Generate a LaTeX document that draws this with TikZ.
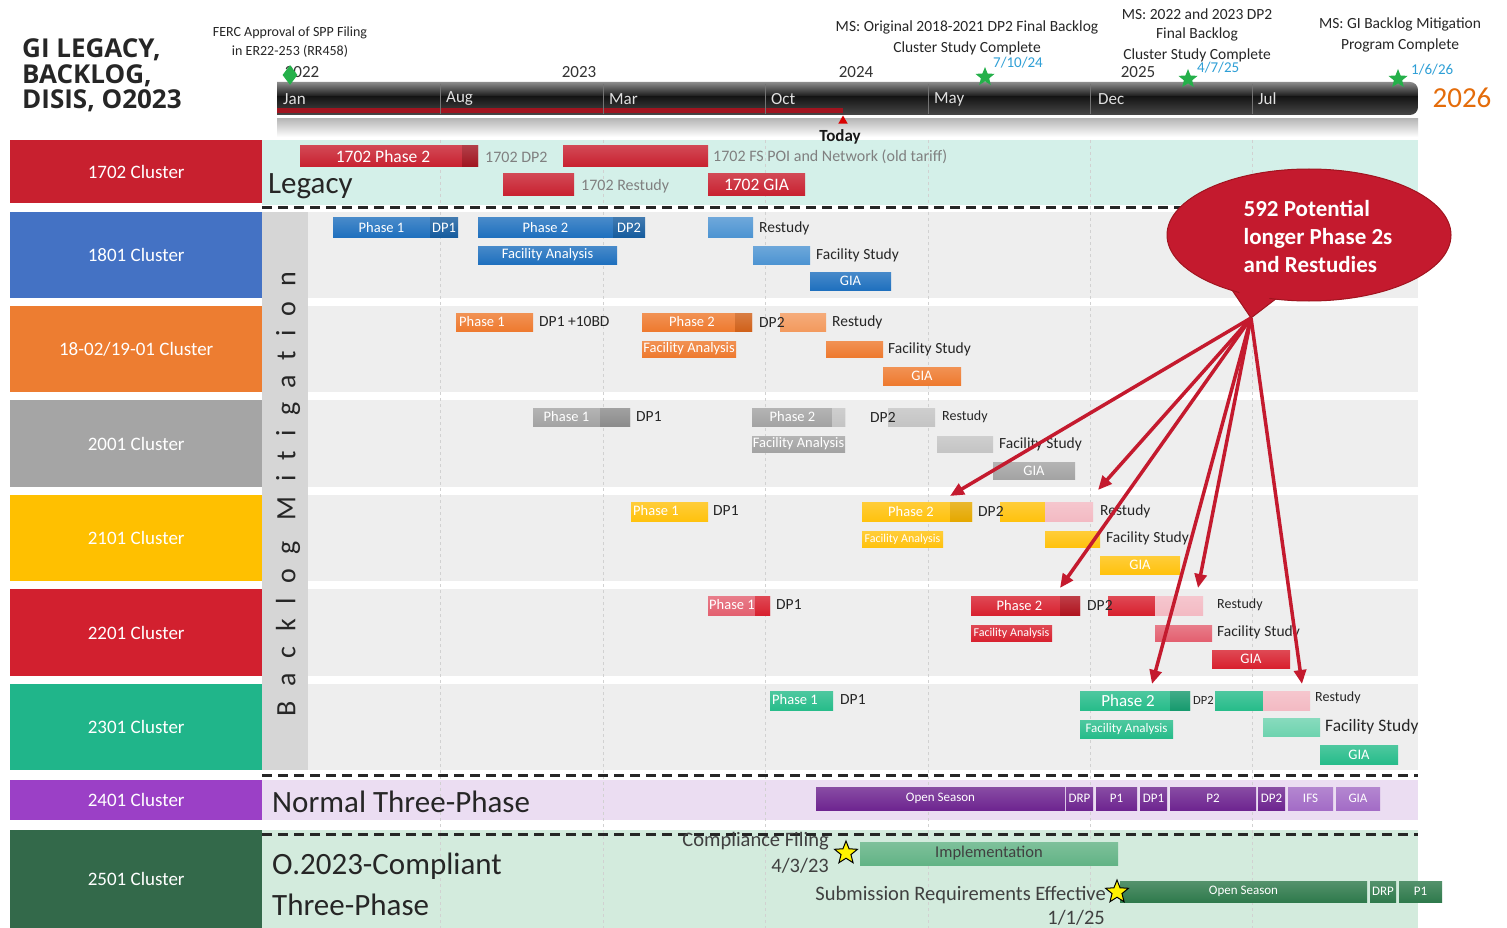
\documentclass[tikz,border=0pt]{standalone}
\usepackage{fontspec}
\setmainfont{Carlito}
\newfontfamily\titlef{Open Sans}
\newfontfamily\spacedf[LetterSpace=52,Ligatures={NoCommon,NoRare,NoDiscretionary}]{Carlito}
\usetikzlibrary{shapes.geometric,arrows.meta}
\definecolor{cRed}{HTML}{C8202F}
\definecolor{cRedD}{HTML}{A0141F}
\definecolor{cBlueL}{HTML}{4472C4}
\definecolor{cBlue}{HTML}{1F70BE}
\definecolor{cBlueD}{HTML}{165C9E}
\definecolor{cBlueLt}{HTML}{4D94D2}
\definecolor{cOrL}{HTML}{ED7D31}
\definecolor{cOr}{HTML}{EE7A2F}
\definecolor{cOrD}{HTML}{D0611A}
\definecolor{cOrLt}{HTML}{F39A5E}
\definecolor{cGyL}{HTML}{A5A5A5}
\definecolor{cGy}{HTML}{A3A3A3}
\definecolor{cGyD}{HTML}{8C8C8C}
\definecolor{cGyLt}{HTML}{C4C4C4}
\definecolor{cGoL}{HTML}{FFC000}
\definecolor{cGo}{HTML}{FFC20E}
\definecolor{cGoD}{HTML}{E5A800}
\definecolor{cPink}{HTML}{F3BAC3}
\definecolor{cR2L}{HTML}{D2202F}
\definecolor{cR2}{HTML}{D8212F}
\definecolor{cR2D}{HTML}{B0141F}
\definecolor{cR2Lt}{HTML}{E36070}
\definecolor{cTeL}{HTML}{20B58A}
\definecolor{cTe}{HTML}{27BC8A}
\definecolor{cTeD}{HTML}{179A6E}
\definecolor{cTeLt}{HTML}{6ED3AF}
\definecolor{cPuL}{HTML}{9B40C6}
\definecolor{cPu}{HTML}{6E2590}
\definecolor{cPuLt}{HTML}{A36CC6}
\definecolor{cDgL}{HTML}{33694A}
\definecolor{cDg}{HTML}{2F7A4C}
\definecolor{cImp}{HTML}{62B385}
\definecolor{bgLeg}{HTML}{D4F0E9}
\definecolor{bgBand}{HTML}{EEEEEE}
\definecolor{bgCol}{HTML}{D6D6D6}
\definecolor{bgPu}{HTML}{EBDDF2}
\definecolor{bgGr}{HTML}{D3EBDD}
\definecolor{msBlue}{HTML}{2E9FD6}
\definecolor{cStar}{HTML}{25B04A}
\definecolor{c2026}{HTML}{E46C0A}
\definecolor{cCall}{HTML}{C41A2E}
\newcommand\gb[7]{\node[gbar,top color=#6!82!white,bottom color=#6,minimum width={#3-#2},minimum height={#5-#4},anchor=north west] (#1) at (#2,#4) {#7};}
\tikzset{
  gbar/.style={rectangle,inner sep=0pt,outer sep=0pt,text=white,font=\fontsize{14.5}{16}\selectfont},
  btxt/.style={anchor=west,inner sep=0pt,text=white,font=\fontsize{14.5}{16}\selectfont},
  lab/.style={anchor=west,inner sep=0pt,text=black!85,font=\fontsize{15.5}{18}\selectfont},
  glab/.style={lab,text=black!50,font=\fontsize{16}{18}\selectfont},
  rowlab/.style={rectangle,inner sep=0pt,text=white,font=\fontsize{19}{21}\selectfont,minimum width=252,anchor=north west},
  big/.style={anchor=west,inner sep=0pt,text=black!85,font=\fontsize{31}{34}\selectfont},
  ms/.style={inner sep=0pt,text=black!85,font=\fontsize{15.5}{17}\selectfont},
  fms/.style={inner sep=0pt,text=black!85,font=\fontsize{14}{16}\selectfont},
  msd/.style={anchor=west,inner sep=0pt,text=msBlue,font=\fontsize{15}{16}\selectfont},
  mon/.style={anchor=west,inner sep=0pt,text=black!12,font=\fontsize{17}{19}\selectfont},
  yr/.style={inner sep=0pt,text=black!80,font=\fontsize{17}{19}\selectfont},
  gstar/.style={star,star points=5,star point ratio=2.3,fill=cStar,minimum size=20,inner sep=0pt},
  ystar/.style={star,star points=5,star point ratio=2.3,fill=yellow,draw=black,line width=1,minimum size=24,inner sep=0pt},
  dline/.style={line width=3,black!85,dash pattern=on 10 off 6},
  grid/.style={black!18,dashed,line width=0.8},
  callarrow/.style={cCall,line width=3.5,-{Triangle[length=14,width=12]}},
  ttl/.style={anchor=base west,inner sep=0pt,text=black!85,font=\titlef\bfseries\fontsize{26}{26}\selectfont},
  bot/.style={anchor=east,inner sep=0pt,text=black!75,font=\fontsize{20.5}{22}\selectfont},
}
\begin{document}
\begin{tikzpicture}[x=1pt,y=-1pt]
\useasboundingbox (0,0) rectangle (1507,928);
\fill[white] (0,0) rectangle (1507,928);

% ---------- title ----------
\node[ttl] (t1) at (22,58) {GI LEGACY,};
\node[ttl] (t2) at (22,83.5) {BACKLOG,};
\node[ttl] (t3) at (22,109) {DISIS, O2023};

% ---------- section backgrounds ----------
\fill[bgLeg] (262,140) rectangle (1418,205);
\foreach \a/\b in {212/298,306/392,400/487,495/581,589/676,684/770}
  \fill[bgBand] (262,\a) rectangle (1418,\b);
\fill[bgCol] (262,212) rectangle (308,770);
\fill[bgPu] (262,780) rectangle (1418,820);
\fill[bgGr] (262,830) rectangle (1418,928);
\foreach \x in {440,603,765,928,1090,1252}
  \draw[grid] (\x,140) -- (\x,928);

% ---------- row labels ----------
\node[rowlab,fill=cRed,minimum height=63] (r1702) at (10,140) {1702 Cluster};
\node[rowlab,fill=cBlueL,minimum height=86] (r1801) at (10,212) {1801 Cluster};
\node[rowlab,fill=cOrL,minimum height=86] (r1802) at (10,306) {18-02/19-01 Cluster};
\node[rowlab,fill=cGyL,minimum height=87] (r2001) at (10,400) {2001 Cluster};
\node[rowlab,fill=cGoL,minimum height=86] (r2101) at (10,495) {2101 Cluster};
\node[rowlab,fill=cR2L,minimum height=87] (r2201) at (10,589) {2201 Cluster};
\node[rowlab,fill=cTeL,minimum height=86] (r2301) at (10,684) {2301 Cluster};
\node[rowlab,fill=cPuL,minimum height=40] (r2401) at (10,780) {2401 Cluster};
\node[rowlab,fill=cDgL,minimum height=98] (r2501) at (10,830) {2501 Cluster};

% ---------- section texts ----------
\node[big] (legacy) at (268,186) {Legacy};
\node[big] (normal) at (272,802) {Normal Three-Phase};
\node[big] (o2023a) at (272,866) {O.2023-Compliant};
\node[big] (o2023b) at (272,905) {Three-Phase};
\node[rotate=90,inner sep=0pt,text=black!85,font=\spacedf\fontsize{28}{30}\selectfont] (backlog) at (288,494) {Backlog Mitigation};

% ---------- dashed separators ----------
\draw[dline] (262,208) -- (1418,208);
\draw[dline] (262,775) -- (1418,775);
\draw[dline] (262,834) -- (1418,834);

% ---------- timeline ----------
\shade[top color=black!28,bottom color=white] (277,119) rectangle (1418,137);
\begin{scope}
  \clip (277,82) [rounded corners=8] -- (1418,82) -- (1418,115) [sharp corners] -- (277,115) -- cycle;
  \shade[top color=black!45,bottom color=black!92] (277,82) rectangle (1418,97);
  \shade[top color=black!92,bottom color=black!72] (277,96.5) rectangle (1418,115);
\end{scope}
\fill[cRedD] (277,108) rectangle (843,113);
\foreach \x in {440,603,765,928,1090,1252}
  \draw[black!55] (\x,84) -- (\x,114);
\node[mon] (mJan) at (283,99) {Jan};
\node[mon] (mAug) at (446,99) {Aug};
\node[mon] (mMar) at (609,99) {Mar};
\node[mon] (mOct) at (771,99) {Oct};
\node[mon] (mMay) at (934,99) {May};
\node[mon] (mDec) at (1098,99) {Dec};
\node[mon] (mJul) at (1258,99) {Jul};
\node[yr] (y2022) at (302,72) {2022};
\node[yr] (y2023) at (579,72) {2023};
\node[yr] (y2024) at (856,72) {2024};
\node[yr] (y2025) at (1138,72) {2025};
\node[inner sep=0pt,text=c2026,font=\fontsize{29}{31}\selectfont] (y2026) at (1462,98) {2026};
\node[regular polygon,regular polygon sides=3,fill=red!85!black,minimum size=11,inner sep=0pt] (todaytri) at (843,121) {};
\node[inner sep=0pt,text=black!90,font=\bfseries\fontsize{17}{19}\selectfont] (today) at (840,137) {Today};

% ---------- milestones ----------
\node[fms] (ferc1) at (290,33) {FERC Approval of SPP Filing};
\node[fms] (ferc2) at (290,51) {in ER22-253 (RR458)};
\node[diamond,fill=cStar,minimum width=15,minimum height=20,inner sep=0pt] (fercm) at (290,75) {};
\node[ms] (ms1a) at (967,27) {MS: Original 2018-2021 DP2 Final Backlog};
\node[ms] (ms1b) at (967,48) {Cluster Study Complete};
\node[gstar] (ms1s) at (985,77) {};
\node[msd] (ms1d) at (993,63) {7/10/24};
\node[ms] (ms2a) at (1197,14) {MS: 2022 and 2023 DP2};
\node[ms] (ms2b) at (1197,34) {Final Backlog};
\node[ms] (ms2c) at (1197,55) {Cluster Study Complete};
\node[gstar] (ms2s) at (1188,79) {};
\node[msd] (ms2d) at (1197,68) {4/7/25};
\node[ms] (ms3a) at (1400,24) {MS: GI Backlog Mitigation};
\node[ms] (ms3b) at (1400,45) {Program Complete};
\node[gstar] (ms3s) at (1398,79) {};
\node[msd] (ms3d) at (1411,70) {1/6/26};

% ---------- 1702 ----------
\gb{l1}{300}{478}{146}{167}{cRed}{\fontsize{17.5}{19}\selectfont1702 Phase 2\hspace*{12pt}}
\gb{l1d}{462}{478}{146}{167}{cRedD}{}
\node[glab] (l1t) at (485,157) {1702 DP2};
\gb{l2}{563}{708}{146}{167}{cRed}{}
\node[glab] (l2t) at (713,157) {1702 FS POI and Network (old tariff)};
\gb{l3}{503}{574}{174}{196}{cRed}{}
\node[glab] (l3t) at (581,186) {1702 Restudy};
\gb{l4}{708}{805}{174}{196}{cRed}{\fontsize{17.5}{19}\selectfont1702 GIA}

% ---------- 1801 ----------
\gb{b1}{333}{430}{218}{237}{cBlue}{Phase 1}
\gb{b1d}{430}{458}{218}{237}{cBlueD}{DP1}
\gb{b2}{478}{613}{218}{237}{cBlue}{Phase 2}
\gb{b2d}{613}{645}{218}{237}{cBlueD}{DP2}
\gb{b3}{708}{753}{218}{237}{cBlueLt}{}
\node[lab] (b3t) at (759,228) {Restudy};
\gb{b4}{478}{617}{246}{264}{cBlue}{Facility Analysis}
\gb{b5}{753}{810}{246}{264}{cBlueLt}{}
\node[lab] (b5t) at (816,255) {Facility Study};
\gb{b6}{810}{891}{272}{290}{cBlue}{GIA}

% ---------- 18-02/19-01 ----------
\gb{o1}{456}{533}{313}{331}{cOr}{}
\node[btxt] (o1t) at (459,322) {Phase 1};
\node[lab] (o1l) at (539,322) {DP1 +10BD};
\gb{o2}{642}{752}{313}{331}{cOr}{\hspace*{-10pt}Phase 2}
\gb{o2d}{735}{752}{313}{331}{cOrD}{}
\gb{o3}{780}{826}{313}{331}{cOrLt}{}
\node[lab] (o2l) at (759,322) {DP2};
\node[lab] (o3t) at (832,322) {Restudy};
\gb{o4}{642}{736}{341}{357}{cOr}{Facility Analysis}
\gb{o5}{826}{883}{341}{357}{cOr}{}
\node[lab] (o5t) at (888,349) {Facility Study};
\gb{o6}{883}{961}{367}{385}{cOr}{GIA}

% ---------- 2001 ----------
\gb{g1}{533}{630}{408}{426}{cGy}{\hspace*{-30pt}Phase 1}
\gb{g1d}{600}{630}{408}{426}{cGyD}{}
\node[lab] (g1l) at (636,417) {DP1};
\gb{g2}{752}{845}{408}{426}{cGy}{\hspace*{-12pt}Phase 2}
\gb{g2d}{832}{845}{408}{426}{cGyLt}{}
\gb{g3}{888}{935}{408}{426}{cGyLt}{}
\node[lab] (g2l) at (870,417) {DP2};
\node[lab,font=\fontsize{14}{16}\selectfont] (g3t) at (942,417) {Restudy};
\gb{g4}{752}{845}{436}{452}{cGy}{Facility Analysis}
\gb{g5}{937}{993}{436}{452}{cGyLt}{}
\node[lab] (g5t) at (999,444) {Facility Study};
\gb{g6}{993}{1075}{462}{479}{cGy}{GIA}

% ---------- 2101 ----------
\gb{y1}{631}{708}{502}{521}{cGo}{}
\node[btxt] (y1t) at (633,511) {Phase 1};
\node[lab] (y1l) at (713,511) {DP1};
\gb{y2}{862}{972}{502}{521}{cGo}{\hspace*{-12pt}Phase 2}
\gb{y2d}{950}{972}{502}{521}{cGoD}{}
\gb{y3}{1000}{1045}{502}{521}{cGo}{}
\gb{y3p}{1045}{1093}{502}{521}{cPink}{}
\node[lab] (y2l) at (978,511) {DP2};
\node[lab] (y3t) at (1100,511) {Restudy};
\gb{y4}{862}{943}{531}{547}{cGo}{\fontsize{12}{14}\selectfont Facility Analysis}
\gb{y5}{1045}{1100}{531}{547}{cGo}{}
\node[lab] (y5t) at (1106,538) {Facility Study};
\gb{y6}{1100}{1180}{556}{574}{cGo}{GIA}

% ---------- 2201 ----------
\gb{e1}{708}{770}{596}{615}{cR2Lt}{}
\gb{e1d}{755}{770}{596}{615}{cR2}{}
\node[btxt] (e1t) at (709,605) {Phase 1};
\node[lab] (e1l) at (776,605) {DP1};
\gb{e2}{971}{1080}{596}{615}{cR2}{\hspace*{-12pt}Phase 2}
\gb{e2d}{1060}{1080}{596}{615}{cR2D}{}
\gb{e3}{1108}{1155}{596}{615}{cR2}{}
\gb{e3p}{1155}{1203}{596}{615}{cPink}{}
\node[lab] (e2l) at (1087,605) {DP2};
\node[lab,font=\fontsize{14}{16}\selectfont] (e3t) at (1217,605) {Restudy};
\gb{e4}{971}{1052}{625}{641}{cR2}{\fontsize{12}{14}\selectfont Facility Analysis}
\gb{e5}{1155}{1212}{625}{641}{cR2Lt}{}
\node[lab] (e5t) at (1217,632) {Facility Study};
\gb{e6}{1212}{1290}{650}{668}{cR2}{GIA}

% ---------- 2301 ----------
\gb{s1}{770}{833}{691}{710}{cTe}{}
\node[btxt] (s1t) at (772,700) {Phase 1};
\node[lab] (s1l) at (840,700) {DP1};
\gb{s2}{1080}{1190}{691}{710}{cTe}{\fontsize{17}{19}\selectfont\hspace*{-14pt}Phase 2}
\gb{s2d}{1170}{1190}{691}{710}{cTeD}{}
\gb{s3}{1215}{1263}{691}{710}{cTe}{}
\gb{s3p}{1263}{1310}{691}{710}{cPink}{}
\node[lab,font=\fontsize{12.5}{14}\selectfont] (s2l) at (1193,700) {DP2};
\node[lab,font=\fontsize{14}{16}\selectfont] (s3t) at (1315,698) {Restudy};
\gb{s4}{1080}{1173}{720}{738}{cTe}{\fontsize{13}{15}\selectfont Facility Analysis}
\gb{s5}{1263}{1320}{718}{736}{cTeLt}{}
\node[lab,font=\fontsize{17.5}{19}\selectfont] (s5t) at (1325,727) {Facility Study};
\gb{s6}{1320}{1398}{745}{764}{cTe}{GIA}

% ---------- 2401 ----------
\gb{p1}{816}{1065}{787}{810}{cPu}{\fontsize{13}{15}\selectfont Open Season}
\gb{p2}{1066}{1093}{787}{810}{cPu}{\fontsize{13}{15}\selectfont DRP}
\gb{p3}{1096}{1137}{787}{810}{cPu}{\fontsize{13}{15}\selectfont P1}
\gb{p4}{1140}{1167}{787}{810}{cPu}{\fontsize{13}{15}\selectfont DP1}
\gb{p5}{1170}{1256}{787}{810}{cPu}{\fontsize{13}{15}\selectfont P2}
\gb{p6}{1258}{1285}{787}{810}{cPu}{\fontsize{13}{15}\selectfont DP2}
\gb{p7}{1288}{1333}{787}{810}{cPuLt}{\fontsize{13}{15}\selectfont IFS}
\gb{p8}{1336}{1380}{787}{810}{cPuLt}{\fontsize{13}{15}\selectfont GIA}

% ---------- 2501 ----------
\node[bot] (cf1) at (829,841) {Compliance Filing};
\node[bot] (cf2) at (829,866) {4/3/23};
\node[ystar] (cfs) at (846,853) {};
\gb{imp}{860}{1118}{842}{865}{cImp}{\textcolor{black!75}{\fontsize{16.5}{18}\selectfont Implementation}}
\node[bot] (sr1) at (1106,895) {Submission Requirements Effective};
\node[bot] (sr2) at (1105,918) {1/1/25};
\gb{q1}{1120}{1367}{881}{902}{cDg}{\fontsize{13}{15}\selectfont Open Season}
\gb{q2}{1370}{1396}{881}{902}{cDg}{\fontsize{13}{15}\selectfont DRP}
\gb{q3}{1399}{1442}{881}{902}{cDg}{\fontsize{13}{15}\selectfont P1}
\node[ystar] (srs) at (1117,892) {};

% ---------- callout ----------
\coordinate (tail) at (1251,318);
\filldraw[fill=cCall,draw=cRedD,line width=1] (1232,290) -- (tail) -- (1290,288) -- cycle;
\node[ellipse,fill=cCall,draw=cRedD,line width=1,minimum width=284,minimum height=132,inner sep=0pt] (callout) at (1309,235) {};
\fill[cCall] (1236,286) -- (1251,314) -- (1286,284) -- cycle;
\node[align=left,inner sep=0pt,text=white,font=\bfseries\fontsize{23}{28}\selectfont] (calltxt) at (1318,236) {592 Potential\\longer Phase 2s\\and Restudies};
\coordinate (a1) at (950,496);
\coordinate (a2) at (1098,490);
\coordinate (a3) at (1060,588);
\coordinate (a4) at (1198,588);
\coordinate (a5) at (1152,684);
\coordinate (a6) at (1302,684);
\foreach \t in {a1,a2,a3,a4,a5,a6}
  \draw[callarrow] (tail) -- (\t);
\end{tikzpicture}
\end{document}
